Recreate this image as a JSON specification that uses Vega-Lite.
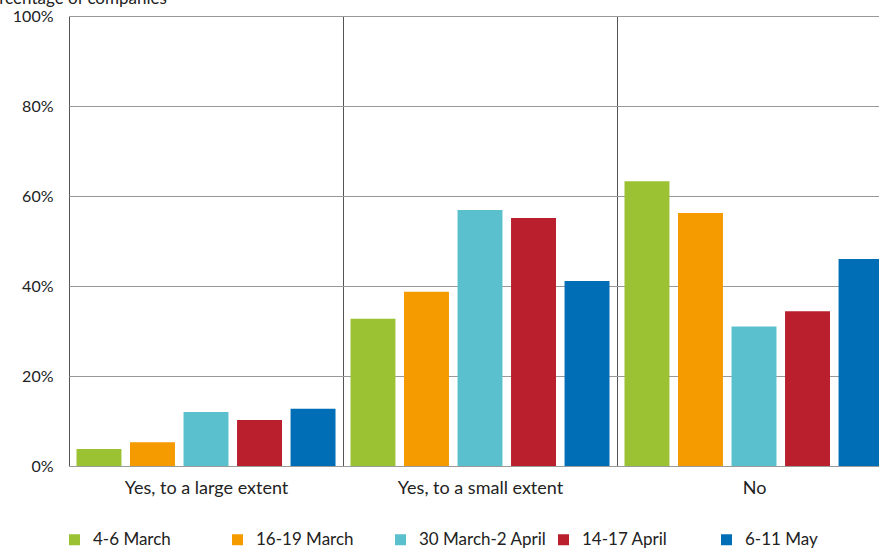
{
  "$schema": "https://vega.github.io/schema/vega-lite/v6.json",
  "width": 822,
  "height": 450,
  "autosize": {"type": "none"},
  "padding": {"left": 69, "top": 16, "right": -12, "bottom": 84},
  "background": "white",
  "config": {
    "font": "Lato",
    "view": {"stroke": null}
  },
  "data": {
    "values": [
      {"answer": "Yes, to a large extent", "period": "4-6 March", "value": 3.8},
      {"answer": "Yes, to a large extent", "period": "16-19 March", "value": 5.3},
      {"answer": "Yes, to a large extent", "period": "30 March-2 April", "value": 12.0},
      {"answer": "Yes, to a large extent", "period": "14-17 April", "value": 10.2},
      {"answer": "Yes, to a large extent", "period": "6-11 May", "value": 12.7},
      {"answer": "Yes, to a small extent", "period": "4-6 March", "value": 32.7},
      {"answer": "Yes, to a small extent", "period": "16-19 March", "value": 38.7},
      {"answer": "Yes, to a small extent", "period": "30 March-2 April", "value": 56.9},
      {"answer": "Yes, to a small extent", "period": "14-17 April", "value": 55.1},
      {"answer": "Yes, to a small extent", "period": "6-11 May", "value": 41.1},
      {"answer": "No", "period": "4-6 March", "value": 63.3},
      {"answer": "No", "period": "16-19 March", "value": 56.2},
      {"answer": "No", "period": "30 March-2 April", "value": 31.0},
      {"answer": "No", "period": "14-17 April", "value": 34.4},
      {"answer": "No", "period": "6-11 May", "value": 46.0}
    ]
  },
  "mark": {"type": "bar"},
  "encoding": {
    "x": {
      "field": "answer",
      "type": "nominal",
      "sort": ["Yes, to a large extent", "Yes, to a small extent", "No"],
      "scale": {"paddingInner": 0, "paddingOuter": 0},
      "axis": {
        "title": null,
        "labelAngle": 0,
        "labelFontSize": 18,
        "labelColor": "#222",
        "labelPadding": 13,
        "ticks": false,
        "domain": true,
        "domainColor": "#9a9a9a",
        "grid": true,
        "tickBand": "extent",
        "gridColor": "#555555",
        "gridWidth": 1
      }
    },
    "xOffset": {
      "field": "period",
      "type": "nominal",
      "sort": ["4-6 March", "16-19 March", "30 March-2 April", "14-17 April", "6-11 May"],
      "scale": {"paddingInner": 0.16, "paddingOuter": 0.14}
    },
    "y": {
      "field": "value",
      "type": "quantitative",
      "scale": {"domain": [0, 100]},
      "axis": {
        "values": [0, 20, 40, 60, 80, 100],
        "labelExpr": "datum.value + '%'",
        "labelFontSize": 16,
        "labelColor": "#222",
        "labelPadding": 16,
        "ticks": false,
        "domain": false,
        "gridColor": "#999999",
        "gridWidth": 1,
        "title": "Percentage of companies",
        "titleAngle": 0,
        "titleAlign": "left",
        "titleBaseline": "alphabetic",
        "titleX": -89,
        "titleY": -13,
        "titleFontSize": 17,
        "titleFontWeight": "normal",
        "titleColor": "#222"
      }
    },
    "color": {
      "field": "period",
      "type": "nominal",
      "sort": ["4-6 March", "16-19 March", "30 March-2 April", "14-17 April", "6-11 May"],
      "scale": {
        "domain": ["4-6 March", "16-19 March", "30 March-2 April", "14-17 April", "6-11 May"],
        "range": ["#9BC232", "#F59B00", "#5BC0CE", "#BA1F2E", "#006EB6"]
      },
      "legend": {
        "title": null,
        "orient": "none",
        "legendX": -3,
        "legendY": 515,
        "direction": "horizontal",
        "columns": 5,
        "gridAlign": "all",
        "symbolType": "square",
        "symbolSize": 121,
        "symbolStrokeWidth": 0,
        "labelFontSize": 17,
        "labelColor": "#222",
        "labelOffset": 10,
        "columnPadding": 8,
        "labelLimit": 300
      }
    }
  }
}
